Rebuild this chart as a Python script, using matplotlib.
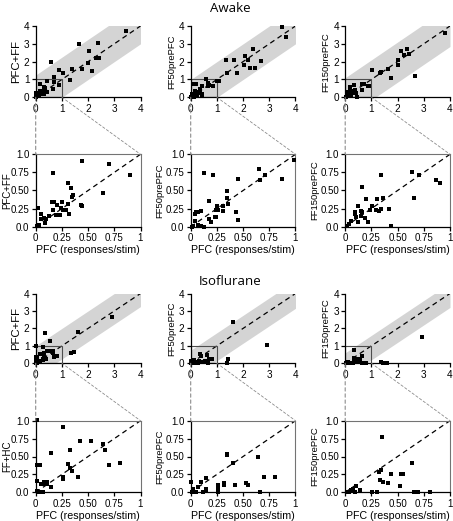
import matplotlib
matplotlib.use("Agg")
import matplotlib.pyplot as plt
from matplotlib.patches import Rectangle, ConnectionPatch
import numpy as np

plt.rcParams["font.family"] = ["Liberation Sans", "DejaVu Sans"]

# ------------------------------------------------------
# data
# ------------------------------------------------------
awake_pfcff_x = [3.45, 1.64, 2.36, 2.04, 0.58, 2.01, 2.29, 2.42, 2.16, 1.75, 0.89, 1.39, 1.06, 1.31, 0.70,
                 0.44, 0.70, 0.90, 0.165, 0.305, 0.34, 0.645, 0.36, 0.35, 0.155, 0.17, 0.25, 0.20, 0.305,
                 0.24, 0.26, 0.29, 0.43, 0.445, 0.32, 0.165, 0.195, 0.23, 0.025, 0.05, 0.055, 0.08, 0.10,
                 0.13, 0.03, 0.01, 0.09]
awake_pfcff_y = [3.72, 2.97, 3.07, 2.62, 1.96, 1.94, 2.22, 2.22, 1.50, 1.57, 1.53, 1.57, 1.35, 0.97, 1.16,
                 0.91, 0.87, 0.71, 0.74, 0.60, 0.54, 0.47, 0.44, 0.41, 0.34, 0.34, 0.34, 0.30, 0.31,
                 0.26, 0.23, 0.23, 0.30, 0.28, 0.18, 0.23, 0.16, 0.16, 0.26, 0.18, 0.10, 0.115, 0.10,
                 0.15, 0.02, 0.01, 0.05]

awake_ff50_x = [3.47, 3.64, 1.34, 1.66, 2.06, 2.36, 2.18, 2.03, 2.28, 2.46, 2.68, 1.78, 1.38, 1.07, 0.60,
                0.99, 0.65, 0.71, 0.66, 0.87, 0.45, 0.125, 0.21, 0.345, 0.17, 0.345, 0.36, 0.31, 0.31,
                0.25, 0.265, 0.245, 0.23, 0.245, 0.43, 0.45, 0.055, 0.045, 0.07, 0.095, 0.17, 0.19,
                0.025, 0.065, 0.10, 0.125, 0.045, 0.01]
awake_ff50_y = [3.92, 3.40, 2.12, 2.07, 2.33, 2.69, 2.07, 1.82, 1.67, 1.63, 2.01, 1.37, 1.35, 0.94, 1.03,
                0.92, 0.80, 0.71, 0.65, 0.66, 0.66, 0.74, 0.72, 0.49, 0.355, 0.39, 0.31, 0.28, 0.22,
                0.29, 0.23, 0.23, 0.135, 0.135, 0.20, 0.09, 0.20, 0.17, 0.20, 0.21, 0.10, 0.07,
                0.01, 0.02, 0.005, 0.0, 0.08, 0.0]

awake_ff150_x = [3.81, 2.34, 2.14, 2.24, 2.43, 2.03, 2.0, 1.62, 1.75, 1.31, 1.38, 1.04, 2.67,
                 0.345, 0.165, 0.64, 0.70, 0.865, 0.905, 0.66, 0.36, 0.30, 0.20, 0.12, 0.15, 0.165,
                 0.155, 0.09, 0.09, 0.10, 0.24, 0.26, 0.29, 0.32, 0.34, 0.42, 0.22, 0.125, 0.055,
                 0.04, 0.02, 0.44, 0.185]
awake_ff150_y = [3.63, 2.73, 2.59, 2.40, 2.42, 2.08, 1.79, 1.58, 1.10, 1.38, 1.41, 1.51, 1.19,
                 0.71, 0.55, 0.75, 0.72, 0.65, 0.61, 0.39, 0.40, 0.38, 0.38, 0.29, 0.22, 0.20,
                 0.15, 0.20, 0.17, 0.135, 0.23, 0.28, 0.23, 0.22, 0.24, 0.24, 0.06, 0.06, 0.08,
                 0.04, 0.015, 0.01, 0.125]

iso_pfcff_x = [0.36, 0.55, 1.6, 2.93, 1.45, 1.35, 0.01,
               0.265, 0.42, 0.53, 0.645, 0.66, 0.325, 0.15, 0.305, 0.33, 0.35, 0.405, 0.70, 0.80,
               0.265, 0.265, 0.01, 0.045, 0.01, 0.055, 0.085, 0.08, 0.11, 0.11, 0.15, 0.015, 0.035, 0.065]
iso_pfcff_y = [1.75, 1.30, 1.81, 2.63, 0.67, 0.61, 1.01,
               0.91, 0.71, 0.71, 0.68, 0.59, 0.59, 0.55, 0.39, 0.335, 0.30, 0.22, 0.38, 0.41,
               0.22, 0.18, 0.38, 0.38, 0.16, 0.11, 0.11, 0.15, 0.15, 0.11, 0.08, 0.02, 0.01, 0.0]

iso_ff50_x = [1.6, 2.92, 1.44, 1.37,
              0.345, 0.345, 0.40, 0.64, 0.70, 0.80, 0.53, 0.545, 0.42, 0.32, 0.32, 0.26, 0.26,
              0.145, 0.10, 0.145, 0.145, 0.07, 0.005, 0.02, 0.04, 0.055, 0.01, 0.12, 0.26, 0.665]
iso_ff50_y = [2.35, 1.04, 0.27, 0.04,
              0.54, 0.52, 0.41, 0.50, 0.22, 0.22, 0.125, 0.10, 0.10, 0.135, 0.10, 0.10, 0.065,
              0.195, 0.15, 0.045, 0.02, 0.08, 0.15, 0.04, 0.01, 0.0, 0.0, 0.0, 0.0, 0.01]

iso_ff150_x = [2.93, 1.36, 1.45, 1.6,
               0.35, 0.64, 0.325, 0.345, 0.435, 0.53, 0.555, 0.335, 0.36, 0.405, 0.52, 0.10,
               0.07, 0.055, 0.145, 0.02, 0.04, 0.09, 0.255, 0.30, 0.655, 0.69, 0.805, 0.26]
iso_ff150_y = [1.52, 0.05, 0.0, 0.03,
               0.77, 0.41, 0.29, 0.31, 0.26, 0.26, 0.26, 0.17, 0.14, 0.13, 0.09, 0.085,
               0.05, 0.035, 0.035, 0.01, 0.0, 0.0, 0.0, 0.0, 0.0, 0.0, 0.0, 0.01]

# grey band around the identity line: (below, above) offsets
awake_bands = [(1.0, 1.25), (1.0, 1.0), (1.15, 1.1)]
iso_bands = [(0.75, 1.0), (0.85, 0.75), (0.8, 0.6)]

awake_labels = ["PFC+FF", "FF50prePFC", "FF150prePFC"]
iso_labels = ["PFC+FF", "FF50prePFC", "FF150prePFC"]
iso_zoom_labels = ["FF+HC", "FF50prePFC", "FF150prePFC"]
label_sizes = {"PFC+FF": 8.2, "FF+HC": 7.5, "FF50prePFC": 6.8, "FF150prePFC": 6.8}

big_ticks = [0, 1, 2, 3, 4]
small_ticks = [0, 0.25, 0.5, 0.75, 1]
small_xticklabels = ["0", "0.25", "0.50", "0.75", "1"]
small_yticklabels = ["0.0", "0.25", "0.50", "0.75", "1.0"]

# ------------------------------------------------------
# layout (pixel based)
# ------------------------------------------------------
W, H = 453, 521
fig = plt.figure(figsize=(W / 100, H / 100), dpi=100)

col_left = [35.7, 190.7, 345.2]
col_w = 104.8
rows = [(26, 97.3), (154.3, 226.7), (293.5, 363.3), (420.7, 492.3)]


def make_ax(col, row):
    t, b = rows[row]
    return fig.add_axes([col_left[col] / W, 1 - b / H, col_w / W, (b - t) / H])


def style(ax, size):
    for s in ["top", "right"]:
        ax.spines[s].set_visible(False)
    for s in ["left", "bottom"]:
        ax.spines[s].set_linewidth(0.9)
    ax.tick_params(direction="out", length=3, width=0.9, labelsize=size, pad=1.5)


def big_panel(ax, x, y, band, label):
    style(ax, 7.2)
    lo, hi = band
    xx = np.array([0, 4])
    ax.fill_between(xx, xx - lo, xx + hi, color="0.83", lw=0, zorder=0)
    ax.plot(xx, xx, ls=(0, (4, 3)), color="k", lw=0.9, zorder=1)
    ax.add_patch(Rectangle((0, 0), 1, 1, fill=False, ec="0.3", lw=0.8, zorder=2))
    ax.plot(x, y, "s", color="k", ms=2.6, mew=0, clip_on=False, zorder=3)
    ax.set_xlim(0, 4)
    ax.set_ylim(0, 4)
    ax.set_xticks(big_ticks)
    ax.set_yticks(big_ticks)
    ax.set_ylabel(label, fontsize=label_sizes[label], labelpad=2)


def small_panel(ax, x, y, label, first_col):
    style(ax, 7)
    ax.spines["top"].set_visible(True)
    ax.spines["right"].set_visible(True)
    ax.spines["top"].set_color("0.45")
    ax.spines["right"].set_color("0.45")
    ax.spines["top"].set_linewidth(0.8)
    ax.spines["right"].set_linewidth(0.8)
    ax.tick_params(top=False, right=False)
    ax.plot([0, 1], [0, 1], ls=(0, (4, 3)), color="k", lw=0.9, zorder=1)
    x = np.array(x)
    y = np.array(y)
    keep = (x <= 1.01) & (y <= 1.01)
    ax.plot(x[keep], y[keep], "s", color="k", ms=2.6, mew=0, clip_on=False, zorder=3)
    ax.set_xlim(0, 1)
    ax.set_ylim(0, 1)
    ax.set_xticks(small_ticks)
    ax.set_xticklabels(small_xticklabels)
    ax.set_yticks(small_ticks)
    ax.set_yticklabels(small_yticklabels)
    if first_col:
        ax.set_ylabel(label, fontsize=7)
        ax.yaxis.set_label_coords(-0.228, 0.5)
    else:
        ax.set_ylabel(label, fontsize=label_sizes[label], labelpad=1)
    ax.set_xlabel("PFC (responses/stim)", fontsize=7.7, labelpad=1.5)


def connect(ax_big, ax_small):
    for (xa, ya), (xb, yb), lw in [((0, 0), (0, 1), 0.8), ((1, 0), (1, 1), 0.6)]:
        con = ConnectionPatch(xyA=(xa, ya), coordsA=ax_big.transData,
                              xyB=(xb, yb), coordsB=ax_small.transData,
                              ls=(0, (3, 2.5)), color="0.55", lw=lw)
        fig.add_artist(con)


awake_x = [awake_pfcff_x, awake_ff50_x, awake_ff150_x]
awake_y = [awake_pfcff_y, awake_ff50_y, awake_ff150_y]
iso_x = [iso_pfcff_x, iso_ff50_x, iso_ff150_x]
iso_y = [iso_pfcff_y, iso_ff50_y, iso_ff150_y]

for c in range(3):
    a1 = make_ax(c, 0)
    big_panel(a1, awake_x[c], awake_y[c], awake_bands[c], awake_labels[c])
    a2 = make_ax(c, 1)
    small_panel(a2, awake_x[c], awake_y[c], awake_labels[c], c == 0)
    connect(a1, a2)

    a3 = make_ax(c, 2)
    big_panel(a3, iso_x[c], iso_y[c], iso_bands[c], iso_labels[c])
    a4 = make_ax(c, 3)
    small_panel(a4, iso_x[c], iso_y[c], iso_zoom_labels[c], c == 0)
    connect(a3, a4)

fig.text(230 / W, 1 - 12 / H, "Awake", ha="center", va="baseline", fontsize=9.5,
         family=["Open Sans", "DejaVu Sans"])
fig.text(230 / W, 1 - 285 / H, "Isoflurane", ha="center", va="baseline", fontsize=9.5,
         family=["Open Sans", "DejaVu Sans"])

fig.savefig("out.png", dpi=100)
